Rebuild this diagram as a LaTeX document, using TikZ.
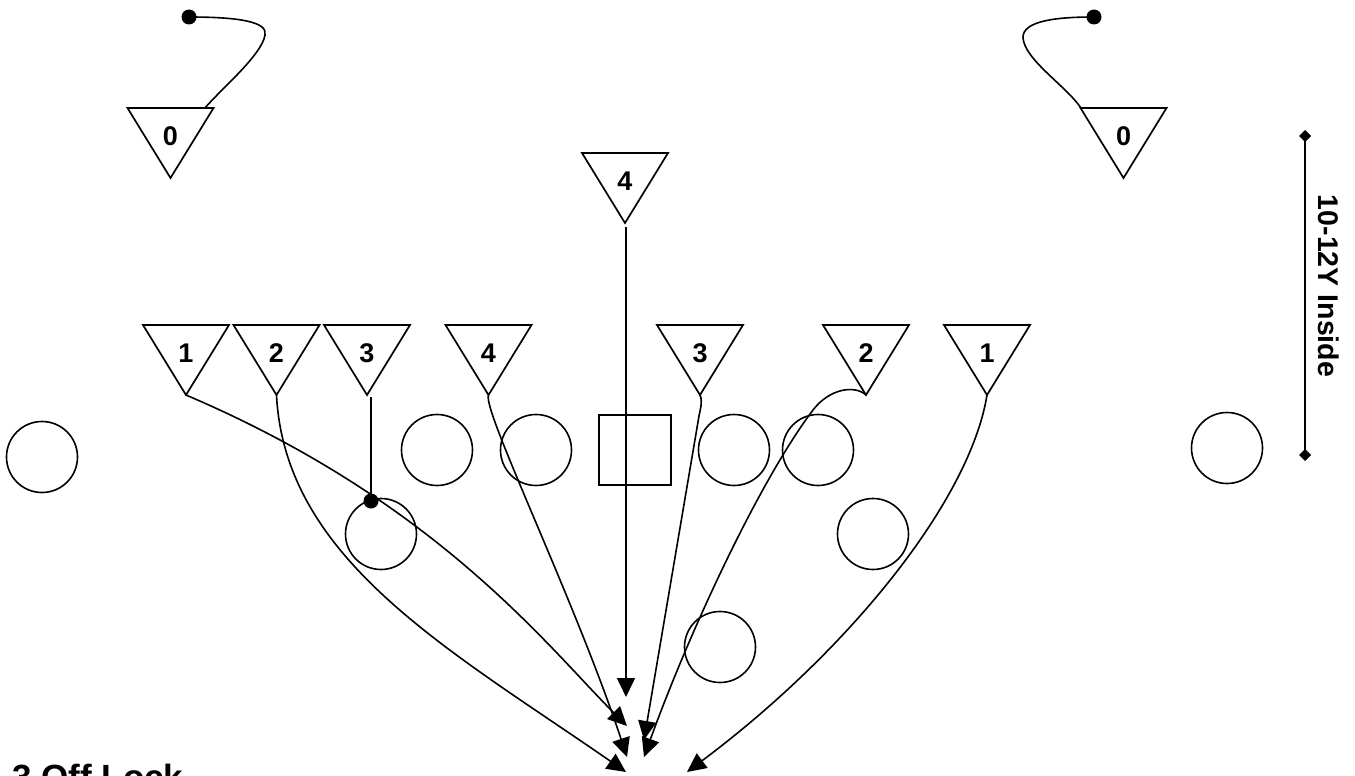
\documentclass[tikz,border=0pt]{standalone}
\usepackage{fontspec}
\setmainfont{Liberation Sans}
\usetikzlibrary{arrows.meta}
\newcommand\deftri[4]{%
  \draw[tri] (#2-43,#3) -- (#2+43,#3) -- (#2,#3+70) -- cycle;
  \coordinate (#1) at (#2,#3+70);
  \node[lbl] (#1l) at (#2,#3+28) {#4};}
\begin{document}
\begin{tikzpicture}[x=1pt,y=-1pt,
  tri/.style={draw,line width=1.7pt,line join=miter},
  plyr/.style={draw,circle,minimum size=71pt,inner sep=0pt,line width=1.6pt},
  ctr/.style={draw,rectangle,minimum width=72pt,minimum height=70pt,inner sep=0pt,line width=1.6pt},
  lbl/.style={font=\fontsize{27}{27}\selectfont\bfseries,inner sep=0pt},
  route/.style={draw,line width=1.6pt,-{Triangle[length=19pt,width=18pt]}},
  plain/.style={draw,line width=1.6pt},
  dotc/.style={circle,fill,minimum size=15pt,inner sep=0pt}]
\useasboundingbox (0,0) rectangle (1355,776);
\fill[white] (0,0) rectangle (1355,776);

% defenders
\deftri{zl}{170.5}{108}{0}
\deftri{zr}{1123.5}{108}{0}
\deftri{ft}{625}{153}{4}
\deftri{la}{186}{325}{1}
\deftri{lb}{276.5}{325}{2}
\deftri{lc}{367}{325}{3}
\deftri{ld}{488.5}{325}{4}
\deftri{rc}{700}{325}{3}
\deftri{rb}{866}{325}{2}
\deftri{ra}{987}{325}{1}

% offense
\node[plyr] (o1) at (42,457) {};
\node[plyr] (o2) at (437,450) {};
\node[plyr] (o3) at (536,450) {};
\node[ctr]  (oc) at (635,450) {};
\node[plyr] (o4) at (734,450) {};
\node[plyr] (o5) at (818,450) {};
\node[plyr] (o6) at (1227,448) {};
\node[plyr] (o7) at (381,534) {};
\node[plyr] (o8) at (873,534) {};
\node[plyr] (o9) at (720,647) {};

% dots
\node[dotc] (dl) at (189,17) {};
\node[dotc] (dr) at (1094,17) {};
\node[dotc] (dm) at (371,501) {};

% top curves
\coordinate (zlt) at (205,108);
\coordinate (zrt) at (1081,108);
\draw[plain] (dl.center) .. controls (240,17) and (268,22) .. (265,35)
  .. controls (262,55) and (220,90) .. (zlt);
\draw[plain] (dr.center) .. controls (1060,17) and (1022,20) .. (1023,38)
  .. controls (1025,60) and (1065,85) .. (zrt);

% tip coordinates
\coordinate (tft) at (626,697);
\coordinate (tla) at (627,726);
\coordinate (trc) at (644,740);
\coordinate (tld) at (627,757);
\coordinate (trb) at (644,757);
\coordinate (tlb) at (626,772);
\coordinate (tra) at (687,772);
\coordinate (lcs) at (371,397);

% routes
\draw[route] (ft) ++(1,4) -- (tft);
\draw[route] (la) .. controls (437,502) and (547,646) .. (tla);
\draw[route] (lb) .. controls (285,560) and (450,650) .. (tlb);
\draw[plain] (lcs) -- (dm.center);
\draw[route] (ld) .. controls (482,410) and (575,600) .. (tld);
\draw[route] (rc) .. controls (703,402) and (700,410) .. (699,416) -- (trc);
\draw[route] (rb) .. controls (855,385) and (830,388) .. (813,410)
  .. controls (760,480) and (690,630) .. (trb);
\draw[route] (ra) .. controls (970,500) and (850,650) .. (tra);

% dimension
\coordinate (d1) at (1305,130);
\coordinate (d2) at (1305,461);
\draw[line width=1.6pt,{Diamond[length=12pt,width=12pt]}-{Diamond[length=12pt,width=12pt]}] (d1) -- (d2);
\node[rotate=-90,font=\fontsize{28.5}{28.5}\selectfont\bfseries,inner sep=0pt] (dim) at (1329,286) {10-12Y Inside};

% title
\node[anchor=base west,font=\fontsize{35}{35}\selectfont\bfseries,inner sep=0pt] (title) at (12,789) {3 Off Lock};
\end{tikzpicture}
\end{document}
